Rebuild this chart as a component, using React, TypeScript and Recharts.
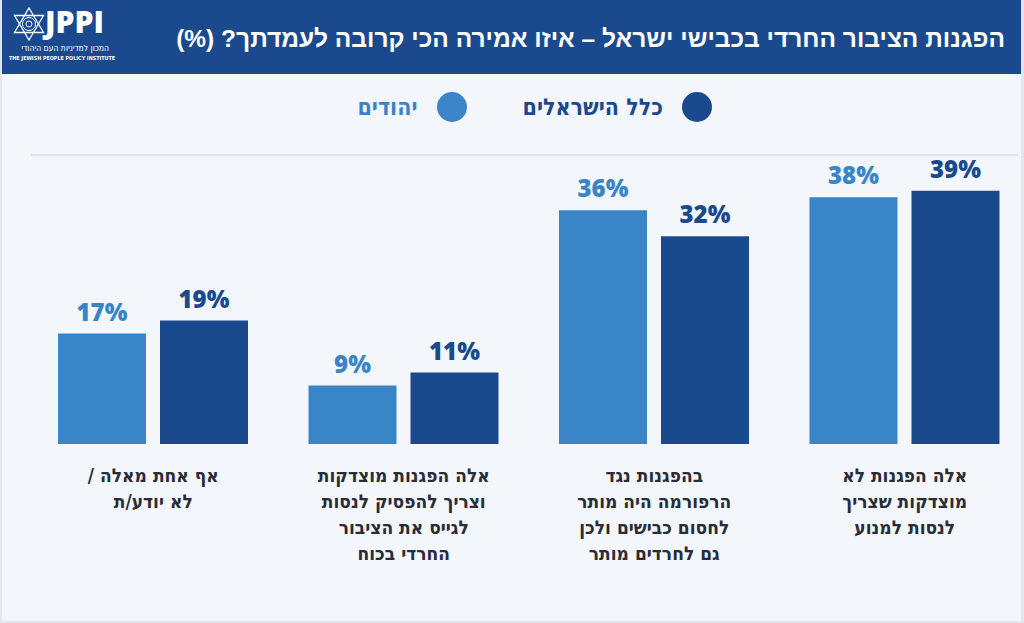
import React from 'react'
import { BarChart, Bar, XAxis, YAxis, LabelList } from 'recharts'

// Survey answers, in Hebrew reading order (rightmost group first)
const categories = [
  'אלה הפגנות לא מוצדקות שצריך לנסות למנוע',
  'בהפגנות נגד הרפורמה היה מותר לחסום כבישים ולכן גם לחרדים מותר',
  'אלה הפגנות מוצדקות וצריך להפסיק לנסות לגייס את הציבור החרדי בכוח',
  'אף אחת מאלה / לא יודע/ת',
]

// How each answer is broken into lines under the bars
const categoryLines = [
  ['אלה הפגנות לא', 'מוצדקות שצריך', 'לנסות למנוע'],
  ['בהפגנות נגד', 'הרפורמה היה מותר', 'לחסום כבישים ולכן', 'גם לחרדים מותר'],
  ['אלה הפגנות מוצדקות', 'וצריך להפסיק לנסות', 'לגייס את הציבור', 'החרדי בכוח'],
  ['אף אחת מאלה /', 'לא יודע/ת'],
]

const jews = [38, 36, 9, 17]
const allIsraelis = [39, 32, 11, 19]

const seriesNames = { jews: 'יהודים', all: 'כלל הישראלים' }

const TITLE = 'הפגנות הציבור החרדי בכבישי ישראל – איזו אמירה הכי קרובה לעמדתך? (%)'

const LIGHT = '#3a85c7'
const DARK = '#1a4a8d'
const BG = '#f3f7fc'
const TEXT = '#2a2c38'

const data = categories.map((name, i) => ({
  name,
  jews: jews[i],
  all: allIsraelis[i],
}))

function CategoryTick({ x, y, payload }: any) {
  const idx = categories.indexOf(payload.value)
  const lines = categoryLines[idx] || [payload.value]
  return (
    <g transform={`translate(${x},${y})`}>
      <text
        textAnchor='middle'
        direction='rtl'
        fill={TEXT}
        style={{
          fontSize: 19,
          fontWeight: 700,
          fontFamily: '"DejaVu Sans Condensed", "DejaVu Sans", sans-serif',
        }}
      >
        {lines.map((line, i) => (
          <tspan key={i} x={0} dy={i === 0 ? 30 : 26}>
            {line}
          </tspan>
        ))}
      </text>
    </g>
  )
}

function Logo() {
  // star of david, roughly
  return (
    <div style={{ position: 'absolute', left: 0, top: 0, width: 120, height: 70 }}>
      <svg width={34} height={34} style={{ position: 'absolute', left: 12, top: 7 }}>
        <polygon points='17,1 31.5,25.5 2.5,25.5' fill='none' stroke='#fff' strokeWidth={1.3} />
        <polygon points='17,33 31.5,8.5 2.5,8.5' fill='none' stroke='#fff' strokeWidth={1.3} />
        <circle cx={17} cy={17} r={6.5} fill='none' stroke='#fff' strokeWidth={1} />
        <circle cx={17} cy={17} r={3} fill='none' stroke='#fff' strokeWidth={1} />
      </svg>
      <div
        style={{
          position: 'absolute',
          left: 45,
          top: 8,
          color: '#fff',
          fontFamily: '"Open Sans", sans-serif',
          fontWeight: 800,
          fontSize: 30,
          lineHeight: '28px',
          height: 28,
          letterSpacing: 0,
        }}
      >
        JPPI
      </div>
      <div
        style={{
          position: 'absolute',
          left: 8,
          top: 44,
          width: 101,
          textAlign: 'right',
          direction: 'rtl',
          color: '#fff',
          fontFamily: '"DejaVu Sans Condensed", sans-serif',
          fontSize: 8.5,
          lineHeight: '9px',
          whiteSpace: 'nowrap',
        }}
      >
        המכון למדיניות העם היהודי
      </div>
      <div
        style={{
          position: 'absolute',
          left: 9,
          top: 55,
          color: '#fff',
          fontFamily: '"DejaVu Sans Condensed", sans-serif',
          fontWeight: 700,
          fontSize: 5.4,
          lineHeight: '6px',
          whiteSpace: 'nowrap',
        }}
      >
        THE JEWISH PEOPLE POLICY INSTITUTE
      </div>
    </div>
  )
}

function LegendItem({ color, label }: { color: string; label: string }) {
  return (
    <div style={{ display: 'flex', alignItems: 'center', gap: 19 }}>
      <div style={{ width: 30, height: 30, borderRadius: '50%', background: color }} />
      <span
        style={{
          color,
          fontSize: 23,
          fontWeight: 700,
          fontFamily: '"DejaVu Sans Condensed", sans-serif',
        }}
      >
        {label}
      </span>
    </div>
  )
}

const valueLabelStyle = { fontSize: 24, fontWeight: 800, fontFamily: '"Open Sans", sans-serif' }

export default function App() {
  return (
    <div
      style={{
        position: 'fixed',
        left: 0,
        top: 0,
        width: 1024,
        height: 623,
        background: BG,
        boxSizing: 'border-box',
        borderLeft: '2px solid #e2e7ee',
        borderRight: '3px solid #e2e7ee',
        borderBottom: '2px solid #e2e7ee',
        overflow: 'hidden',
      }}
    >
      <div
        style={{
          position: 'absolute',
          left: -2,
          top: 0,
          width: 1021,
          height: 74,
          background: DARK,
        }}
      >
        <Logo />
        <div
          style={{
            position: 'absolute',
            right: 16,
            top: 0,
            height: 74,
            lineHeight: '78px',
            direction: 'rtl',
            color: '#fff',
            fontSize: 24.5,
            fontWeight: 700,
            fontFamily: '"Liberation Sans", Arial, sans-serif',
            whiteSpace: 'nowrap',
          }}
        >
          {TITLE}
        </div>
      </div>

      {/* legend */}
      <div
        style={{
          position: 'absolute',
          right: 309,
          top: 92,
          display: 'flex',
          direction: 'rtl',
          gap: 56,
          alignItems: 'center',
        }}
      >
        <LegendItem color={DARK} label={seriesNames.all} />
        <LegendItem color={LIGHT} label={seriesNames.jews} />
      </div>

      {/* top rule */}
      <div
        style={{
          position: 'absolute',
          left: 29,
          top: 154,
          width: 987,
          height: 2,
          background: '#dce4ee',
        }}
      />

      <div style={{ position: 'absolute', left: -4, top: 74 }}>
        <BarChart
          width={1034}
          height={549}
          data={data}
          margin={{ top: 81, right: 2, left: 30, bottom: 0 }}
          barSize={88}
          barGap={14}
        >
          <XAxis
            dataKey='name'
            reversed
            axisLine={false}
            tickLine={false}
            interval={0}
            height={179}
            tick={<CategoryTick />}
          />
          <YAxis hide domain={[0, 44.5]} />
          <Bar dataKey='jews' name={seriesNames.jews} fill={LIGHT} isAnimationActive={false}>
            <LabelList
              dataKey='jews'
              position='top'
              offset={13}
              formatter={(v: any) => `${v}%`}
              fill={LIGHT}
              style={valueLabelStyle}
            />
          </Bar>
          <Bar dataKey='all' name={seriesNames.all} fill={DARK} isAnimationActive={false}>
            <LabelList
              dataKey='all'
              position='top'
              offset={13}
              formatter={(v: any) => `${v}%`}
              fill={DARK}
              style={valueLabelStyle}
            />
          </Bar>
        </BarChart>
      </div>
    </div>
  )
}
